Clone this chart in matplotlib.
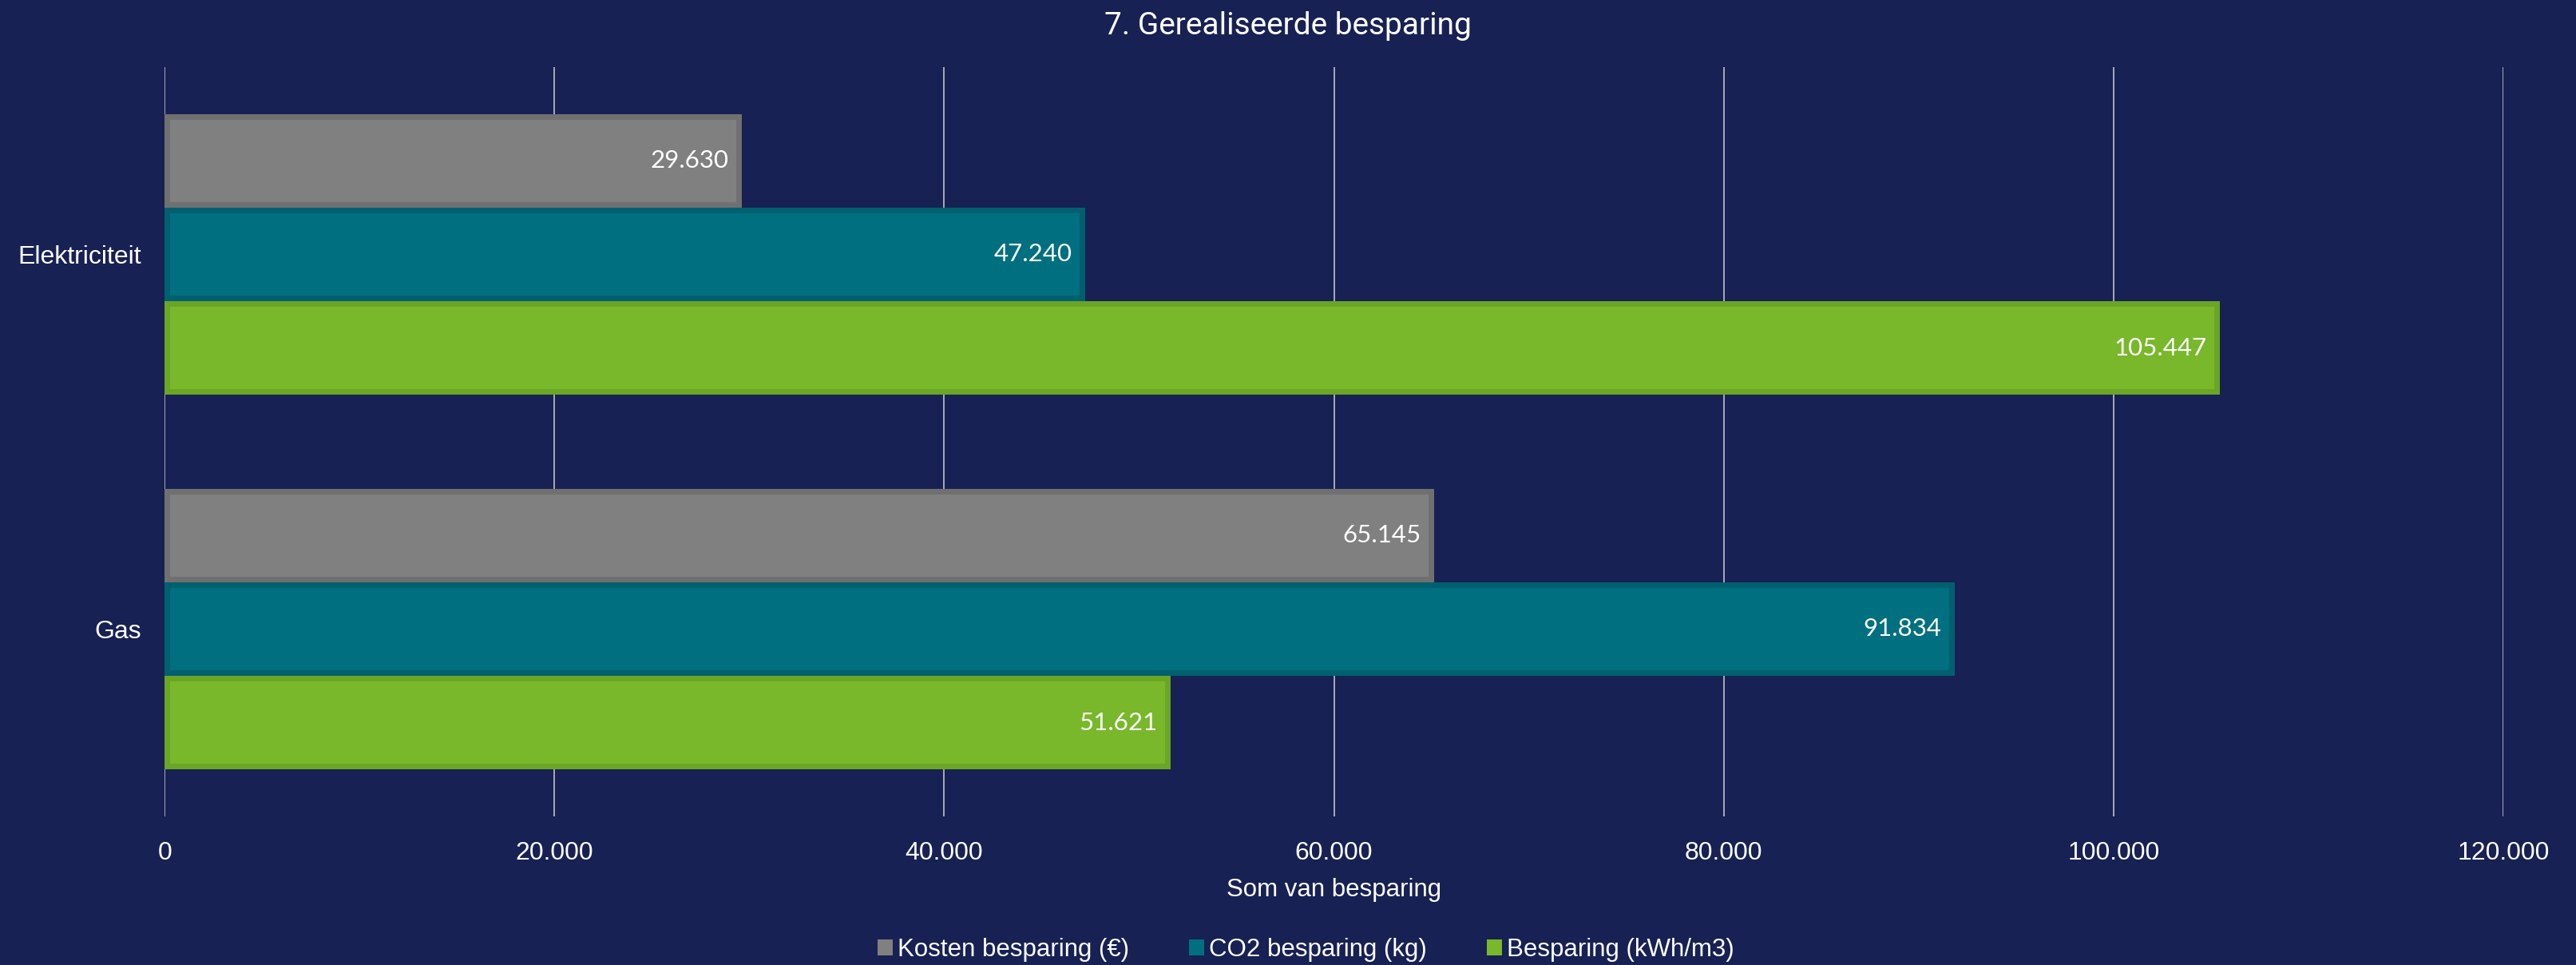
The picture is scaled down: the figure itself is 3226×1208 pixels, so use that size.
import matplotlib.pyplot as plt
import numpy as np
from matplotlib.ticker import FuncFormatter

# data
categories = ["Elektriciteit", "Gas"]
series = ["Kosten besparing (€)", "CO2 besparing (kg)", "Besparing (kWh/m3)"]
kosten = [29630, 65145]
co2 = [47240, 91834]
besparing = [105447, 51621]

fills = ["#808080", "#006F7F", "#78B82A"]
edges = ["#707070", "#00606F", "#6BA525"]
bg = "#172153"

def dots(v):
    return f"{int(v):,}".replace(",", ".")

fig = plt.figure(figsize=(32.26, 12.08), dpi=100, facecolor=bg)
ax = fig.add_axes([0.0639, 0.154, 0.9079, 0.7765], facecolor=bg)

y = np.arange(len(categories))
h = 0.25
for i, (vals, fc, ec) in enumerate(zip([kosten, co2, besparing], fills, edges)):
    bars = ax.barh(y + (i - 1) * h, vals, height=h, color=fc, edgecolor=ec,
                   linewidth=10, label=series[i], zorder=3)
    for b, v in zip(bars, vals):
        b.set_clip_path(b)
        ax.annotate(dots(v), (v, b.get_y() + h / 2), xytext=(-12, 0),
                    textcoords="offset points", ha="right", va="center",
                    color="white", fontsize=22.5, family="Lato", zorder=4)

ax.set_xlim(0, 120000)
ax.set_ylim(1.5, -0.5)
ax.set_xticks(np.arange(0, 120001, 20000))
ax.xaxis.set_major_formatter(FuncFormatter(lambda v, p: dots(v)))
ax.set_yticks(y)
ax.set_yticklabels(categories)
ax.grid(axis="x", color="#d0d0d0", linewidth=1.1, zorder=0)
ax.tick_params(length=0, colors="white", labelsize=23)
ax.tick_params(axis="x", pad=22)
ax.tick_params(axis="y", pad=21)
for lab in ax.get_xticklabels() + ax.get_yticklabels():
    lab.set_family("Liberation Sans")
for s in ax.spines.values():
    s.set_visible(False)

ax.set_xlabel("Som van besparing", color="white", fontsize=22.5,
              family="Liberation Sans", labelpad=12)
fig.suptitle("7. Gerealiseerde besparing", color="white", fontsize=28,
             family="Roboto", y=0.988, va="top")

leg = fig.legend(loc="center", bbox_to_anchor=(0.507, 0.016), ncol=3,
                 frameon=False, handlelength=0.6, handleheight=0.6,
                 handletextpad=0.2, columnspacing=2.4,
                 prop={"family": "Liberation Sans", "size": 22.5})
for t in leg.get_texts():
    t.set_color("white")
for p in leg.get_patches():
    p.set_linewidth(0)

fig.savefig("out.png", dpi=100, facecolor=bg)
